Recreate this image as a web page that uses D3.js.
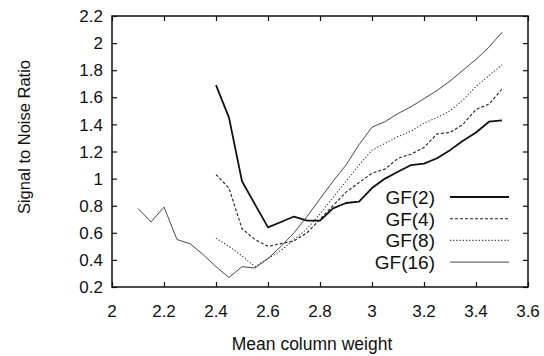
<!DOCTYPE html>
<html>
<head>
<meta charset="utf-8">
<script src="https://cdn.jsdelivr.net/npm/d3@7"></script>
<style>
  body { margin: 0; background: #fff; }
  text { font-family: "Liberation Sans", Arial, sans-serif; fill: #111; }
</style>
</head>
<body>
<div id="chart"></div>
<script>
// x values (mean column weight) for each series
const xLong = [2.1, 2.15, 2.2, 2.25, 2.3, 2.35, 2.4, 2.45, 2.5, 2.55, 2.6, 2.65, 2.7, 2.75, 2.8,
               2.85, 2.9, 2.95, 3.0, 3.05, 3.1, 3.15, 3.2, 3.25, 3.3, 3.35, 3.4, 3.45, 3.5];
const xShort = [2.4, 2.45, 2.5, 2.55, 2.6, 2.65, 2.7, 2.75, 2.8, 2.85, 2.9, 2.95, 3.0,
                3.05, 3.1, 3.15, 3.2, 3.25, 3.3, 3.35, 3.4, 3.45, 3.5];

const gf2 = [1.69, 1.45, 0.98, 0.81, 0.64, 0.68, 0.72, 0.69, 0.69, 0.78, 0.82, 0.83, 0.93,
             1.00, 1.05, 1.10, 1.11, 1.15, 1.21, 1.28, 1.34, 1.42, 1.43];
const gf4 = [1.03, 0.93, 0.63, 0.55, 0.50, 0.52, 0.54, 0.60, 0.70, 0.80, 0.90, 0.97, 1.04,
             1.07, 1.15, 1.18, 1.23, 1.33, 1.34, 1.40, 1.51, 1.55, 1.66];
const gf8 = [0.56, 0.50, 0.43, 0.35, 0.41, 0.47, 0.55, 0.63, 0.74, 0.86, 0.98, 1.10, 1.21,
             1.26, 1.31, 1.35, 1.41, 1.45, 1.50, 1.58, 1.68, 1.76, 1.84];
const gf16 = [0.78, 0.68, 0.79, 0.55, 0.52, 0.44, 0.35, 0.27, 0.35, 0.34, 0.41, 0.50, 0.60, 0.72, 0.85,
              0.98, 1.10, 1.25, 1.38, 1.42, 1.48, 1.53, 1.59, 1.65, 1.72, 1.80, 1.88, 1.97, 2.08];

const seriesNames = ["GF(2)", "GF(4)", "GF(8)", "GF(16)"];
const xTicks = [2, 2.2, 2.4, 2.6, 2.8, 3, 3.2, 3.4, 3.6];
const yTicks = [0.2, 0.4, 0.6, 0.8, 1, 1.2, 1.4, 1.6, 1.8, 2, 2.2];

const width = 544, height = 356;
const margin = {left: 112, right: 16, top: 16, bottom: 69};

let x = d3.scaleLinear().domain([2, 3.6]).range([margin.left, width - margin.right]);
let y = d3.scaleLinear().domain([0.2, 2.2]).range([height - margin.bottom, margin.top]);

// line styles per series
const styles = [
  {w: 1.8, dash: null, col: "#111"},
  {w: 1.1, dash: "3,2", col: "#222"},
  {w: 1.1, dash: "1.2,2", col: "#333"},
  {w: 0.9, dash: null, col: "#333"}
];

let series = [
  {name: seriesNames[0], xs: xShort, ys: gf2},
  {name: seriesNames[1], xs: xShort, ys: gf4},
  {name: seriesNames[2], xs: xShort, ys: gf8},
  {name: seriesNames[3], xs: xLong, ys: gf16}
];

let svg = d3.select("#chart").append("svg")
  .attr("width", width)
  .attr("height", height);

// axes: ticks pointing inward, mirrored on top / right
let tick = 5;
let fmt = d3.format("~g");

svg.append("g")
  .attr("transform", "translate(0," + y.range()[0] + ")")
  .call(d3.axisTop(x).tickValues(xTicks).tickSize(tick).tickFormat(""))
  .call(g => g.select(".domain").remove());
svg.append("g")
  .attr("transform", "translate(0," + y.range()[1] + ")")
  .call(d3.axisBottom(x).tickValues(xTicks).tickSize(tick).tickFormat(""))
  .call(g => g.select(".domain").remove());
svg.append("g")
  .attr("transform", "translate(" + x.range()[0] + ",0)")
  .call(d3.axisRight(y).tickValues(yTicks).tickSize(tick).tickFormat(""))
  .call(g => g.select(".domain").remove());
svg.append("g")
  .attr("transform", "translate(" + x.range()[1] + ",0)")
  .call(d3.axisLeft(y).tickValues(yTicks).tickSize(tick).tickFormat(""))
  .call(g => g.select(".domain").remove());

svg.selectAll(".tick line").attr("stroke", "#111").attr("stroke-width", 1.2);

svg.append("rect")
  .attr("x", x.range()[0])
  .attr("y", y.range()[1])
  .attr("width", x.range()[1] - x.range()[0])
  .attr("height", y.range()[0] - y.range()[1])
  .attr("fill", "none")
  .attr("stroke", "#111")
  .attr("stroke-width", 1.5);

// tick labels
svg.append("g").selectAll("text")
  .data(xTicks)
  .enter()
  .append("text")
  .attr("x", d => x(d))
  .attr("y", y.range()[0] + 30)
  .attr("text-anchor", "middle")
  .style("font-size", "17px")
  .text(fmt);

svg.append("g").selectAll("text")
  .data(yTicks)
  .enter()
  .append("text")
  .attr("x", x.range()[0] - 9)
  .attr("y", d => y(d))
  .attr("dy", "0.36em")
  .attr("text-anchor", "end")
  .style("font-size", "17px")
  .text(fmt);

// axis titles
svg.append("text")
  .attr("x", (x.range()[0] + x.range()[1]) / 2 - 8)
  .attr("y", 350)
  .attr("text-anchor", "middle")
  .style("font-size", "17.5px")
  .text("Mean column weight");

svg.append("text")
  .attr("transform", "translate(30,137) rotate(-90)")
  .attr("text-anchor", "middle")
  .style("font-size", "16.5px")
  .text("Signal to Noise Ratio");

// curves
let line = d3.line()
  .x(d => x(d[0]))
  .y(d => y(d[1]));

svg.append("g").selectAll("path")
  .data(series)
  .enter()
  .append("path")
  .attr("d", s => line(s.xs.map((v, i) => [v, s.ys[i]])))
  .attr("fill", "none")
  .attr("stroke", (s, i) => styles[i].col)
  .attr("stroke-width", (s, i) => styles[i].w)
  .attr("stroke-dasharray", (s, i) => styles[i].dash)
  .attr("stroke-linejoin", "round");

// legend
let legend = svg.append("g").selectAll("g")
  .data(series)
  .enter()
  .append("g")
  .attr("transform", (s, i) => "translate(0," + (197 + i * 21.7) + ")");

legend.append("text")
  .attr("x", 435)
  .attr("dy", "0.36em")
  .attr("text-anchor", "end")
  .style("font-size", "19px")
  .text(s => s.name);

legend.append("line")
  .attr("x1", 450)
  .attr("x2", 509)
  .attr("stroke", (s, i) => styles[i].col)
  .attr("stroke-width", (s, i) => styles[i].w)
  .attr("stroke-dasharray", (s, i) => styles[i].dash);
</script>
</body>
</html>
